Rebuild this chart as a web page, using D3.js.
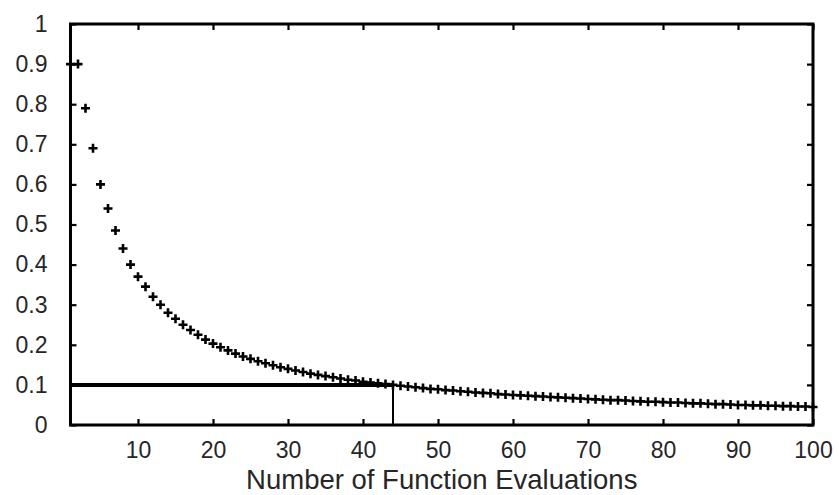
<!DOCTYPE html>
<html>
<head>
<meta charset="utf-8">
<script src="https://cdn.jsdelivr.net/npm/d3@7"></script>
<style>
  html, body { margin: 0; padding: 0; background: #fff; }
  svg { display: block; }
  text { font-family: "Liberation Sans", Arial, sans-serif; fill: #262626; }
</style>
</head>
<body>
<svg id="chart" width="839" height="495"></svg>
<script>
// ---- data ----
const evaluations = d3.range(1, 101);
const probability = [
  0.900, 0.900, 0.790, 0.690, 0.600, 0.540, 0.485, 0.440, 0.400, 0.370,
  0.345, 0.320, 0.300, 0.280, 0.265, 0.250, 0.237, 0.225, 0.213, 0.203,
  0.194, 0.186, 0.178, 0.171, 0.165, 0.159, 0.154, 0.149, 0.144, 0.140,
  0.136, 0.132, 0.128, 0.125, 0.122, 0.119, 0.116, 0.113, 0.111, 0.108,
  0.106, 0.104, 0.102, 0.100, 0.098, 0.096, 0.094, 0.092, 0.090, 0.089,
  0.087, 0.086, 0.084, 0.083, 0.081, 0.080, 0.079, 0.077, 0.076, 0.075,
  0.074, 0.073, 0.072, 0.071, 0.070, 0.069, 0.068, 0.067, 0.066, 0.065,
  0.064, 0.063, 0.062, 0.062, 0.061, 0.060, 0.059, 0.058, 0.058, 0.057,
  0.056, 0.056, 0.055, 0.054, 0.054, 0.053, 0.052, 0.052, 0.051, 0.050,
  0.050, 0.049, 0.049, 0.048, 0.048, 0.047, 0.047, 0.046, 0.046, 0.045
];
const xTicks = [10, 20, 30, 40, 50, 60, 70, 80, 90, 100];
const yTicks = [0, 0.1, 0.2, 0.3, 0.4, 0.5, 0.6, 0.7, 0.8, 0.9, 1];
const yTickLabels = ["0", "0.1", "0.2", "0.3", "0.4", "0.5", "0.6", "0.7", "0.8", "0.9", "1"];
const thresholdY = 0.1;
const thresholdX = 44;
const xLabel = "Number of Function Evaluations";

// ---- layout ----
const svg = d3.select("#chart");
const pL = 70.5, pR = 813, pT = 24, pB = 425;
const x = d3.scaleLinear().domain([1, 100]).range([pL, pR]);
const y = d3.scaleLinear().domain([0, 1]).range([pB, pT]);
const tickLen = 6;

// markers
const pts = evaluations.map((e, i) => [e, probability[i]]);
const m = 4.5;
svg.append("g")
  .selectAll("path")
  .data(pts)
  .join("path")
  .attr("d", d => {
    const cx = x(d[0]), cy = y(d[1]);
    return `M${cx - m},${cy}H${cx + m}M${cx},${cy - m}V${cy + m}`;
  })
  .attr("stroke", "#000")
  .attr("stroke-width", 2.6)
  .attr("fill", "none");

// threshold lines
svg.append("line")
  .attr("x1", x(1)).attr("x2", x(thresholdX))
  .attr("y1", y(thresholdY)).attr("y2", y(thresholdY))
  .attr("stroke", "#000").attr("stroke-width", 4);
svg.append("line")
  .attr("x1", x(thresholdX)).attr("x2", x(thresholdX))
  .attr("y1", y(thresholdY)).attr("y2", y(0))
  .attr("stroke", "#000").attr("stroke-width", 2);

// axes (inner ticks on all sides)
const axB = svg.append("g").attr("transform", `translate(0,${pB})`)
  .call(d3.axisBottom(x).tickValues(xTicks).tickSizeInner(-tickLen).tickSizeOuter(0).tickPadding(17));
const axT = svg.append("g").attr("transform", `translate(0,${pT})`)
  .call(d3.axisTop(x).tickValues(xTicks).tickSizeInner(-tickLen).tickSizeOuter(0).tickFormat(""));
const axL = svg.append("g").attr("transform", `translate(${pL},0)`)
  .call(d3.axisLeft(y).tickValues(yTicks).tickSizeInner(-tickLen).tickSizeOuter(0)
    .tickFormat((d, i) => yTickLabels[i]).tickPadding(23));
const axR = svg.append("g").attr("transform", `translate(${pR},0)`)
  .call(d3.axisRight(y).tickValues(yTicks).tickSizeInner(-tickLen).tickSizeOuter(0).tickFormat(""));

[axB, axT, axL, axR].forEach(a => {
  a.select(".domain").remove();
  a.selectAll(".tick line").attr("stroke", "#000").attr("stroke-width", 2.2);
  a.selectAll("text").attr("font-size", 23).attr("fill", "#262626")
    .attr("font-family", "Liberation Sans, Arial, sans-serif");
});
axB.selectAll("text").attr("dy", "0.71em");

// frame
svg.append("rect")
  .attr("x", pL).attr("y", pT)
  .attr("width", pR - pL).attr("height", pB - pT)
  .attr("fill", "none").attr("stroke", "#000").attr("stroke-width", 3);

// x label
svg.append("text")
  .attr("x", (pL + pR) / 2)
  .attr("y", 489)
  .attr("text-anchor", "middle")
  .attr("font-size", 27.5)
  .text(xLabel);
</script>
</body>
</html>
